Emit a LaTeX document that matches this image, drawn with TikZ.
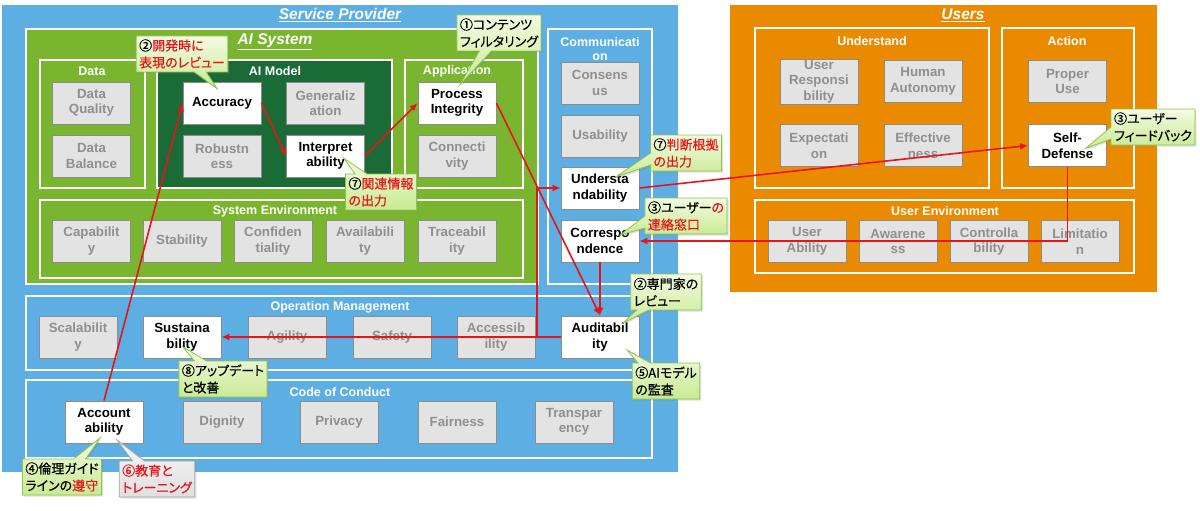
\documentclass[tikz,border=0pt]{standalone}
\usepackage{fontspec}
\setsansfont{Liberation Sans}
\newfontfamily\jp[RawFeature=+palt, FakeBold=0.6]{Noto Sans CJK JP}
\usetikzlibrary{shapes.callouts,shadows,calc,arrows.meta}
\definecolor{spblue}{HTML}{5DAEE2}
\definecolor{aigreen}{HTML}{7AB52F}
\definecolor{mdgreen}{HTML}{1A6B36}
\definecolor{usorange}{HTML}{EA8A00}
\definecolor{itemgray}{HTML}{E3E3E3}
\definecolor{itembd}{HTML}{8C8C8C}
\definecolor{itemtxt}{HTML}{8F8F8F}
\definecolor{tred}{HTML}{E8141B}
\definecolor{notetop}{HTML}{F3FBE2}
\definecolor{notebot}{HTML}{C9EA92}
\definecolor{notebd}{HTML}{8DC44C}
\tikzset{
  grp/.style={draw=white, line width=2.2pt},
  ttl/.style={text=white, font=\sffamily\bfseries\fontsize{12.5}{14}\selectfont, inner sep=0pt, align=center},
  bigttl/.style={text=white, font=\sffamily\bfseries\itshape\fontsize{15.5}{17}\selectfont, inner sep=0pt},
  item/.style={draw=itembd, line width=0.8pt, minimum width=78pt, minimum height=42pt,
    inner sep=1pt, align=center, font=\sffamily\bfseries\fontsize{13.3}{15.5}\selectfont},
  gbox/.style={item, fill=itemgray, text=itemtxt},
  wbox/.style={item, fill=white, text=black},
  link/.style={-{Latex[length=8pt,width=7pt]}, draw=tred, line width=1.6pt},
  callnote/.style={rectangle callout, draw=notebd, line width=0.8pt, top color=notetop,
    bottom color=notebot, align=left, inner sep=3pt, minimum height=36pt,
    callout pointer width=12pt, font=\jp\fontsize{13}{17}\selectfont,
    drop shadow={opacity=0.25, shadow xshift=1.5pt, shadow yshift=-1.5pt}},
  graynote/.style={callnote, draw=gray!70, top color=gray!6, bottom color=gray!25, text=tred}
}
\begin{document}
\begin{tikzpicture}[x=1pt, y=-1pt]
   \useasboundingbox (0,0) rectangle (1200,511);
   % containers
   \fill[spblue] (2,5) rectangle (678,472);
   \draw[grp, fill=aigreen] (26,29) rectangle (538,284);
   \draw[grp, fill=aigreen] (40,60) rectangle (145,188);
   \draw[grp, fill=mdgreen] (157,60) rectangle (392,188);
   \draw[grp, fill=aigreen] (405,60) rectangle (523,188);
   \draw[grp, fill=aigreen] (40,200) rectangle (523,278);
   \draw[grp, fill=spblue] (548,29) rectangle (652,284);
   \draw[grp, fill=spblue] (26,296) rectangle (652,370);
   \draw[grp, fill=spblue] (26,380) rectangle (652,458);
   \fill[usorange] (730,5) rectangle (1157,292);
   \draw[grp, fill=usorange] (755,28) rectangle (989,188);
   \draw[grp, fill=usorange] (1002,28) rectangle (1134,188);
   \draw[grp, fill=usorange] (755,200) rectangle (1134,273);

   \node[bigttl] (tsp) at (340,15) {\underline{Service Provider}};
   \node[bigttl] (tai) at (275,42) {\underline{AI System}};
   \node[bigttl] (tus) at (963,15) {\underline{Users}};
   \node[ttl] (tdata) at (92,71) {Data};
   \node[ttl] (tmod) at (275,71) {AI Model};
   \node[ttl] (tapp) at (457,71) {Application};
   \node[ttl] (tsenv) at (275,211) {System Environment};
   \node[ttl] (tcom) at (600,49) {Communicati\\on};
   \node[ttl] (tops) at (340,307) {Operation Management};
   \node[ttl] (tcoc) at (340,392) {Code of Conduct};
   \node[ttl] (tund) at (872,41) {Understand};
   \node[ttl] (tact) at (1067,41) {Action};
   \node[ttl] (tuenv) at (945,211) {User Environment};

   % items
   \node[gbox] (dq) at (91.5,103) {Data\\Quality};
   \node[gbox] (db) at (91.5,156) {Data\\Balance};
   \node[wbox] (acc) at (222,103) {Accuracy};
   \node[gbox] (gen) at (325.5,103) {Generaliz\\ation};
   \node[gbox] (rob) at (222,156) {Robustn\\ess};
   \node[wbox] (intp) at (325.5,156) {Interpret\\ability};
   \node[wbox] (proc) at (457,103) {Process\\Integrity};
   \node[gbox] (conn) at (457,156) {Connecti\\vity};
   \node[gbox] (cap) at (91.5,241) {Capabilit\\y};
   \node[gbox] (stab) at (182,241) {Stability};
   \node[gbox] (conf) at (273,241) {Confiden\\tiality};
   \node[gbox] (avail) at (365,241) {Availabili\\ty};
   \node[gbox] (trace) at (457,241) {Traceabil\\ity};
   \node[gbox] (cons) at (600,83) {Consens\\us};
   \node[gbox] (usab) at (600,136) {Usability};
   \node[wbox] (und) at (600,188) {Understa\\ndability};
   \node[wbox] (corr) at (600,241) {Correspo\\ndence};
   \node[gbox] (scal) at (78,337) {Scalabilit\\y};
   \node[wbox] (sust) at (182,337) {Sustaina\\bility};
   \node[gbox] (agil) at (287,337) {Agility};
   \node[gbox] (safe) at (392,337) {Safety};
   \node[gbox] (accs) at (496,337) {Accessib\\ility};
   \node[wbox] (audit) at (600,337) {Auditabil\\ity};
   \node[wbox] (acct) at (104,422) {Account\\ability};
   \node[gbox] (dign) at (222,422) {Dignity};
   \node[gbox] (priv) at (339,422) {Privacy};
   \node[gbox] (fair) at (457,422) {Fairness};
   \node[gbox] (trans) at (574,422) {Transpar\\ency};
   \node[gbox] (ures) at (819,81.5) {User\\Responsi\\bility};
   \node[gbox] (haut) at (923,81.5) {Human\\Autonomy};
   \node[gbox] (expc) at (819,145.5) {Expectati\\on};
   \node[gbox] (effc) at (923,145.5) {Effective\\ness};
   \node[gbox] (puse) at (1067.5,81.5) {Proper\\Use};
   \node[wbox] (selfd) at (1067.5,145.5) {Self-\\Defense};
   \node[gbox] (uab) at (807,241.5) {User\\Ability};
   \node[gbox] (awar) at (898,241.5) {Awarene\\ss};
   \node[gbox] (ctrl) at (989,241.5) {Controlla\\bility};
   \node[gbox] (lim) at (1080,241.5) {Limitatio\\n};

   % connectors
   \coordinate (jn) at (537,337);
   \draw[link] (acct.north) -- (acc.west);
   \draw[link] (acc.east) -- (intp.west);
   \draw[link] (intp.east) -- (proc.west);
   \draw[link] (proc.east) -- (audit.north);
   \draw[link] (corr.south) -- (audit.north);
   \draw[link] (audit.west) -- (sust.east);
   \draw[link] (audit.west) -- (jn) |- (und.west);
   \draw[link] (und.east) -- (selfd.west);
   \draw[link] (selfd.south) |- (corr.east);

   % callouts
   \node[callnote, callout absolute pointer={($(acc.north)+(-5,7)$)}] (n2a) at (182,54)
     {②{\color{tred}開発時に}\\{\color{tred}表現のレビュー}};
   \node[callnote, callout absolute pointer={($(proc.north)+(3,3)$)}] (n1) at (499,33)
     {①コンテンツ\\フィルタリング};
   \node[callnote, callout absolute pointer={($(intp.center)+(18,2)$)}] (n7a) at (381,192)
     {⑦{\color{tred}関連情報}\\{\color{tred}の出力}};
   \node[callnote, callout absolute pointer={($(und.center)+(16,-11)$)}] (n7b) at (686,153)
     {⑦{\color{tred}判断根拠}\\{\color{tred}の出力}};
   \node[callnote, callout absolute pointer={($(corr.center)+(20,-6)$)}] (n3a) at (686,216)
     {③ユーザー{\color{tred}の}\\{\color{tred}連絡窓口}};
   \node[callnote, callout absolute pointer={($(audit.center)+(23,-14)$)}] (n2b) at (666,292)
     {②専門家の\\レビュー};
   \node[callnote, callout absolute pointer={($(audit.center)+(27,13)$)}] (n5) at (666,381)
     {⑤AIモデル\\の監査};
   \node[callnote, callout absolute pointer={($(sust.center)+(1,10)$)}] (n8) at (223,379)
     {⑧アップデート\\と改善};
   \node[callnote, callout absolute pointer={($(selfd.center)+(18,3)$)}] (n3b) at (1153,127)
     {③ユーザー\\フィードバック};
   \node[callnote, callout absolute pointer={($(acct.center)+(-4,16)$)}] (n4) at (62,477)
     {④倫理ガイド\\ラインの{\color{tred}遵守}};
   \node[graynote, callout absolute pointer={($(acct.center)+(13,18)$)}] (n6) at (157,479)
     {⑥教育と\\トレーニング};
\end{tikzpicture}
\end{document}
